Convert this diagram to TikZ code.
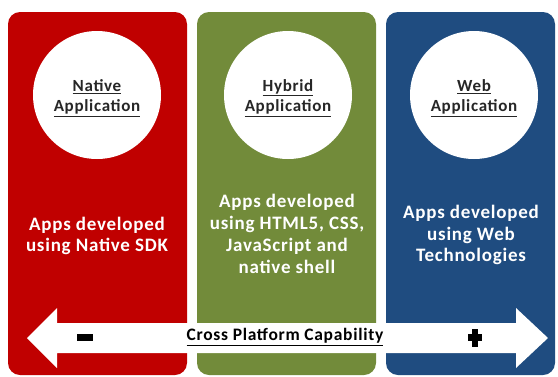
\documentclass[tikz,border=0pt]{standalone}
\usepackage{fontspec}
\setmainfont{Carlito}
\newfontfamily\widefont{Carlito}[LetterSpace=4]
\definecolor{pred}{HTML}{C00000}
\definecolor{pgreen}{HTML}{728B3A}
\definecolor{pblue}{HTML}{1F4C80}
\definecolor{ctext}{HTML}{262626}
\begin{document}
\begin{tikzpicture}[x=1pt,y=-1pt,
  panel/.style={rounded corners=12pt},
  circ/.style={circle, fill=white, minimum size=128pt, inner sep=0pt},
  ctitle/.style={font=\widefont\fontsize{17}{20.5}\selectfont\bfseries, text=ctext, align=center},
  body/.style={font=\widefont\fontsize{19}{21.8}\selectfont\bfseries, text=white, align=center},
  arrowlbl/.style={font=\widefont\fontsize{17.5}{18}\selectfont\bfseries, text=black}]
\useasboundingbox (0,0) rectangle (558,376);
\fill[white] (0,0) rectangle (558,376);
% panels
\fill[pred, panel] (8,12) rectangle (187,375);
\fill[pgreen, panel] (197,12) rectangle (376,375);
\fill[pblue, panel] (386,12) rectangle (555,375);
% circles
\node[circ] (c1) at (97,95) {};
\node[circ] (c2) at (288,95) {};
\node[circ] (c3) at (474,95) {};
\node[ctitle] (t1) at ([yshift=-3pt]c1.center) {\underline{Native}\\\underline{Application}};
\node[ctitle] (t2) at ([yshift=-3pt]c2.center) {\underline{Hybrid}\\\underline{Application}};
\node[ctitle] (t3) at ([yshift=-3pt]c3.center) {\underline{Web}\\\underline{Application}};
% body text
\node[body] (b1) at (97,236) {Apps developed\\using Native SDK};
\node[body] (b2) at (287,234) {Apps developed\\using HTML5, CSS,\\JavaScript and\\native shell};
\node[body] (b3) at (471,235) {Apps developed\\using Web\\Technologies};
% double arrow
\fill[white] (27,338) -- (57,308) -- (57,323) -- (516,323) -- (516,308) -- (548,338)
  -- (516,368) -- (516,353) -- (57,353) -- (57,368) -- cycle;
\fill[black] (77,333.5) rectangle (93,340.5);
\fill[black] (468,334) rectangle (482,341);
\fill[black] (472,329) rectangle (478,347);
\node[arrowlbl] (cap) at (285,337) {\underline{Cross Platform Capability}};
\end{tikzpicture}
\end{document}
